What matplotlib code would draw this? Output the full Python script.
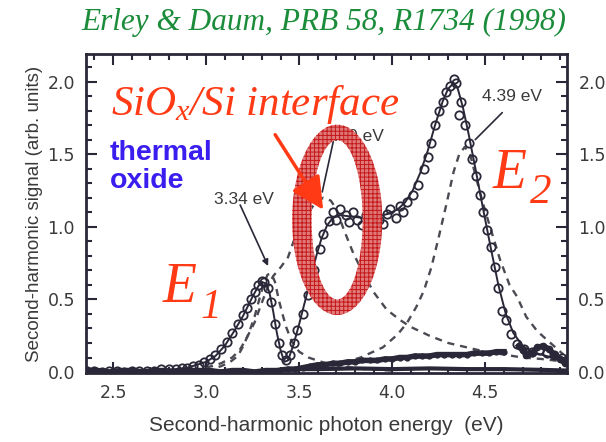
import numpy as np
import matplotlib
matplotlib.use("Agg")
import matplotlib.pyplot as plt
from matplotlib.path import Path
from matplotlib.patches import PathPatch
from matplotlib.ticker import MultipleLocator

plt.rcParams['font.family'] = ['Liberation Sans', 'DejaVu Sans']
plt.rcParams['mathtext.fontset'] = 'custom'
plt.rcParams['mathtext.it'] = 'Liberation Serif:italic'
plt.rcParams['mathtext.rm'] = 'Liberation Serif:italic'
plt.rcParams['hatch.linewidth'] = 0.7

# ---- measured SHG spectrum (open circles) ----
energy = [2.36, 2.40, 2.44, 2.48, 2.52, 2.56, 2.60, 2.64, 2.68, 2.72, 2.76, 2.80,
          2.84, 2.87, 2.90, 2.93, 2.96, 2.99, 3.02, 3.05, 3.08, 3.11, 3.14, 3.17,
          3.20, 3.22, 3.24, 3.26, 3.28, 3.30, 3.31, 3.33, 3.35, 3.37, 3.39, 3.41,
          3.43, 3.45, 3.47, 3.49, 3.52, 3.55, 3.58, 3.61, 3.63, 3.66, 3.68, 3.70,
          3.72, 3.75, 3.77, 3.79, 3.81, 3.84, 3.86, 3.88, 3.90, 3.93, 3.95, 3.97,
          3.99, 4.02, 4.04, 4.06, 4.08, 4.11, 4.14, 4.17, 4.19, 4.21, 4.23, 4.25,
          4.27, 4.29, 4.31, 4.33, 4.34, 4.36, 4.37, 4.39, 4.41, 4.43, 4.45, 4.47,
          4.49, 4.51, 4.53, 4.55, 4.57, 4.59, 4.61, 4.64, 4.67, 4.71, 4.75, 4.79,
          4.83, 4.87, 4.91, 4.94]
signal = [0.01, 0.01, 0.00, 0.01, 0.01, 0.00, 0.01, 0.01, 0.01, 0.01, 0.02, 0.02,
          0.02, 0.03, 0.03, 0.04, 0.05, 0.07, 0.09, 0.12, 0.16, 0.21, 0.27, 0.33,
          0.39, 0.44, 0.50, 0.55, 0.60, 0.63, 0.62, 0.58, 0.48, 0.33, 0.20, 0.12,
          0.08, 0.12, 0.20, 0.29, 0.40, 0.53, 0.70, 0.85, 0.95, 1.04, 1.10, 1.05,
          1.12, 1.08, 1.03, 1.10, 1.05, 1.01, 1.08, 1.04, 1.10, 1.05, 1.02, 1.09,
          1.12, 1.06, 1.14, 1.10, 1.17, 1.22, 1.29, 1.40, 1.48, 1.58, 1.70, 1.80,
          1.86, 1.93, 1.97, 2.02, 1.99, 1.77, 1.86, 1.70, 1.58, 1.47, 1.35, 1.22,
          1.10, 0.98, 0.86, 0.72, 0.58, 0.42, 0.36, 0.26, 0.19, 0.16, 0.14, 0.15,
          0.13, 0.12, 0.10, 0.08]

# ---- total fit (solid line) ----
fit_energy = [2.36, 2.60, 2.80, 2.90, 3.00, 3.05, 3.10, 3.15, 3.20, 3.25, 3.28, 3.30,
              3.32, 3.34, 3.36, 3.38, 3.40, 3.42, 3.44, 3.47, 3.50, 3.53, 3.56, 3.59,
              3.62, 3.65, 3.68, 3.72, 3.78, 3.85, 3.92, 3.98, 4.03, 4.07, 4.11, 4.15,
              4.19, 4.23, 4.27, 4.30, 4.33, 4.35, 4.38, 4.41, 4.45, 4.49, 4.53, 4.57,
              4.61, 4.65, 4.70, 4.75, 4.80, 4.86, 4.94]
fit_signal = [0.00, 0.005, 0.015, 0.03, 0.07, 0.11, 0.18, 0.28, 0.39, 0.52, 0.59, 0.62,
              0.61, 0.55, 0.42, 0.27, 0.15, 0.07, 0.08, 0.19, 0.33, 0.48, 0.63, 0.79,
              0.92, 1.01, 1.06, 1.08, 1.07, 1.06, 1.07, 1.09, 1.12, 1.17, 1.25, 1.37,
              1.52, 1.70, 1.86, 1.95, 1.99, 1.96, 1.82, 1.64, 1.38, 1.11, 0.85, 0.60,
              0.40, 0.27, 0.18, 0.14, 0.12, 0.10, 0.08]

# ---- resonance components (dashed) ----
e1_energy = [3.00, 3.08, 3.13, 3.17, 3.20, 3.23, 3.26, 3.29, 3.31, 3.33, 3.35, 3.37,
             3.39, 3.41, 3.43, 3.46, 3.50, 3.55, 3.62, 3.72, 3.85, 4.00]
e1_signal = [0.01, 0.04, 0.07, 0.11, 0.18, 0.27, 0.38, 0.52, 0.61, 0.67, 0.68, 0.62,
             0.50, 0.40, 0.31, 0.21, 0.14, 0.10, 0.07, 0.04, 0.02, 0.01]

e360_energy = [3.00, 3.08, 3.14, 3.18, 3.22, 3.26, 3.30, 3.33, 3.36, 3.40, 3.44, 3.47,
               3.51, 3.55, 3.59, 3.63, 3.67, 3.70, 3.74, 3.79, 3.84, 3.90, 3.97, 4.04,
               4.10, 4.20, 4.30, 4.40, 4.50, 4.60, 4.70, 4.80, 4.94]
e360_signal = [0.03, 0.06, 0.10, 0.15, 0.24, 0.34, 0.48, 0.58, 0.66, 0.72, 0.79, 0.90,
               1.00, 1.10, 1.17, 1.20, 1.18, 1.12, 0.98, 0.82, 0.69, 0.55, 0.43, 0.36,
               0.31, 0.25, 0.20, 0.17, 0.14, 0.12, 0.10, 0.09, 0.07]

e2_energy = [3.60, 3.70, 3.83, 3.95, 4.03, 4.08, 4.13, 4.17, 4.21, 4.25, 4.29, 4.33,
             4.36, 4.39, 4.42, 4.45, 4.49, 4.53, 4.58, 4.63, 4.67, 4.72, 4.78, 4.85,
             4.92]
e2_signal = [0.03, 0.05, 0.10, 0.17, 0.26, 0.34, 0.45, 0.56, 0.72, 0.93, 1.15, 1.38,
             1.50, 1.55, 1.49, 1.34, 1.15, 0.98, 0.77, 0.60, 0.52, 0.38, 0.28, 0.20,
             0.12]

# ---- thermal oxide spectrum (filled dots) ----
oxide_energy = [2.36, 2.42, 2.48, 2.54, 2.60, 2.66, 2.72, 2.78, 2.84, 2.90, 2.96, 3.02,
                3.08, 3.14, 3.20, 3.26, 3.32, 3.38, 3.44, 3.48, 3.52, 3.56, 3.60, 3.64,
                3.68, 3.72, 3.76, 3.80, 3.84, 3.88, 3.92, 3.96, 4.00, 4.04, 4.08, 4.12,
                4.16, 4.20, 4.24, 4.28, 4.32, 4.36, 4.40, 4.44, 4.48, 4.52, 4.56, 4.60]
oxide_signal = [0.01, 0.01, 0.00, 0.01, 0.01, 0.00, 0.01, 0.01, 0.00, 0.01, 0.01, 0.01,
                0.00, 0.01, 0.01, 0.00, 0.01, 0.01, 0.02, 0.02, 0.03, 0.04, 0.05, 0.05,
                0.06, 0.06, 0.07, 0.07, 0.08, 0.08, 0.08, 0.09, 0.09, 0.10, 0.10, 0.11,
                0.11, 0.11, 0.12, 0.12, 0.12, 0.12, 0.12, 0.13, 0.13, 0.13, 0.14, 0.14]
oxide_hi_energy = [4.68, 4.70, 4.72, 4.75, 4.78, 4.81, 4.84, 4.87, 4.90, 4.93]
oxide_hi_signal = [0.18, 0.15, 0.12, 0.13, 0.17, 0.18, 0.16, 0.12, 0.09, 0.06]
oxide_base_energy = [3.45, 3.60, 3.80, 4.00, 4.20, 4.40, 4.60, 4.80, 4.94]
oxide_base_signal = [0.02, 0.02, 0.025, 0.02, 0.025, 0.02, 0.02, 0.015, 0.01]

x_ticks = [2.5, 3.0, 3.5, 4.0, 4.5]
y_ticks = [0.0, 0.5, 1.0, 1.5, 2.0]

ink = '#2a2838'
dash_col = '#4a4a52'
grey_txt = '#3a3a3a'
red = '#ff3a14'

fig = plt.figure(figsize=(6.06, 4.42), dpi=100)
ax = fig.add_axes([0.142, 0.156, 0.794, 0.722])

ax.plot(oxide_base_energy, oxide_base_signal, '-', color=ink, lw=3.0, zorder=3)
ax.plot(oxide_energy, oxide_signal, '-', color=ink, lw=4.0, marker='o', ms=3.5, zorder=3)
ax.plot(oxide_hi_energy, oxide_hi_signal, '-', color=ink, lw=4.0, marker='o', ms=4.5, zorder=3)

ax.plot(e1_energy, e1_signal, ls=(0, (3, 2.5)), color=dash_col, lw=1.7, zorder=2)
ax.plot(e360_energy, e360_signal, ls=(0, (3, 2.5)), color=dash_col, lw=1.7, zorder=2)
ax.plot(e2_energy, e2_signal, ls=(0, (3, 2.5)), color=dash_col, lw=1.7, zorder=2)

ax.plot(fit_energy, fit_signal, '-', color=ink, lw=1.4, zorder=4)
ax.plot(energy, signal, 'o', mfc='none', mec=ink, mew=1.3, ms=6, zorder=5)

ax.set_xlim(2.355, 4.94)
ax.set_ylim(-0.007, 2.19)
ax.set_xticks(x_ticks)
ax.set_yticks(y_ticks)
ax.set_xticklabels([f'{v:.1f}' for v in x_ticks])
ax.set_yticklabels([f'{v:.1f}' for v in y_ticks])
ax.xaxis.set_minor_locator(MultipleLocator(0.1))
ax.yaxis.set_minor_locator(MultipleLocator(0.1))
ax.tick_params(which='both', direction='in', top=True, right=True,
               labelright=True, color=ink, width=1.5)
ax.tick_params(which='major', length=8, labelsize=12.5, labelcolor=grey_txt, pad=8,
               labelfontfamily='DejaVu Sans')
ax.tick_params(which='minor', length=4)
for s in ax.spines.values():
    s.set_linewidth(2.0)
    s.set_color(ink)

ax.set_xlabel('Second-harmonic photon energy  (eV)', fontsize=15, color=grey_txt,
              labelpad=10)
ax.set_ylabel('Second-harmonic signal (arb. units)', fontsize=13.5, color=grey_txt,
              labelpad=3)

# peak labels with pointers
lab = dict(fontsize=12.5, color=grey_txt, ha='center', va='center')
ax.text(3.204, 1.19, '3.34 eV', **lab)
ax.annotate('', xy=(3.333, 0.73), xytext=(3.183, 1.15),
            arrowprops=dict(arrowstyle='-|>', lw=1.2, color=ink, mutation_scale=9,
                            shrinkA=0, shrinkB=0))
ax.text(3.796, 1.62, '3.60 eV', **lab)
ax.annotate('', xy=(3.624, 1.24), xytext=(3.683, 1.586),
            arrowprops=dict(arrowstyle='-', lw=1.2, color=ink, shrinkA=0, shrinkB=0))
ax.text(4.645, 1.90, '4.39 eV', **lab)
ax.annotate('', xy=(4.446, 1.60), xytext=(4.591, 1.786),
            arrowprops=dict(arrowstyle='-', lw=1.2, color=ink, shrinkA=0, shrinkB=0))

# interface highlight ring
cx, cy = 3.704, 1.048
t = np.linspace(0, 2 * np.pi, 200)
outer = np.column_stack([cx + 0.242 * np.cos(t), cy + 0.655 * np.sin(t)])
inner = np.column_stack([cx + 0.137 * np.cos(t[::-1]), cy + 0.548 * np.sin(t[::-1])])
verts = np.concatenate([outer, inner])
codes = np.full(len(verts), Path.LINETO)
codes[0] = Path.MOVETO
codes[len(outer)] = Path.MOVETO
ring = PathPatch(Path(verts, codes), facecolor='#e07474', edgecolor='#c41212',
                 hatch='++++', lw=0, zorder=6, alpha=0.95)
ax.add_patch(ring)

ax.annotate('', xy=(3.629, 1.117), xytext=(3.371, 1.634),
            arrowprops=dict(arrowstyle='-|>,head_length=0.9,head_width=0.45', lw=2.5,
                            color=red, mutation_scale=22, shrinkA=0, shrinkB=0),
            zorder=7)

ax.text(2.49, 1.77, r'$SiO_x/Si\ interface$', fontsize=31, color=red, zorder=7)
ax.text(2.484, 1.60, 'thermal\noxide', fontsize=20.5, fontweight='bold', color='#3a1ef0',
        linespacing=1.1, va='top', zorder=7)

serif_it = dict(family='Liberation Serif', style='italic', color=red, zorder=7)
ax.text(2.769, 0.483, 'E', fontsize=40, **serif_it)
ax.text(2.968, 0.372, '1', fontsize=30, **serif_it)
ax.text(4.538, 1.269, 'E', fontsize=40, **serif_it)
ax.text(4.742, 1.166, '2', fontsize=31, **serif_it)

fig.text(0.535, 0.95, 'Erley & Daum, PRB 58, R1734 (1998)', fontsize=22.5,
         family='Liberation Serif', style='italic', color='#1a8c3a',
         ha='center', va='center')

fig.savefig('out.png', dpi=100)
